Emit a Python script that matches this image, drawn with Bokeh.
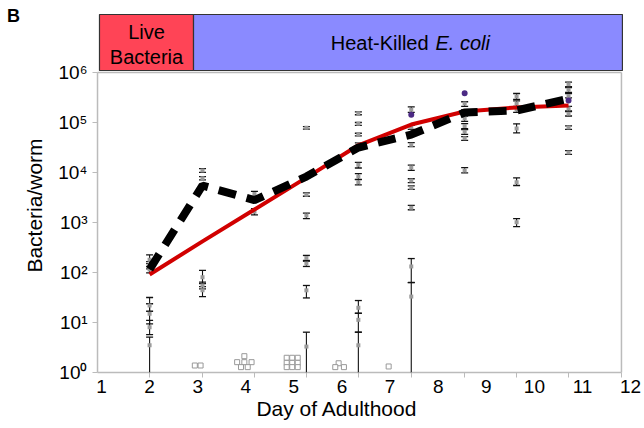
from bokeh.plotting import figure
from bokeh.models import Range1d, FixedTicker
from bokeh.embed import file_html
from bokeh.resources import INLINE
from bokeh.core.properties import value

FONT = "Liberation Sans"

# ---------------- data ----------------
days = [2.0, 3.1, 4.18, 5.26, 6.34, 7.44, 8.55, 9.63, 10.71]
model_fit = [91, 420, 1820, 7900, 35000, 91000, 166000, 200000, 220000]
mean_counts = [115, 5500, 2800, 8300, 31600, 57500, 158000, 174000, 300000]

worm_col = [0, 0, 0, 0, 0, 0, 0,
            1, 1, 1, 1, 1,
            2, 2,
            3, 3, 3, 3, 3, 3, 3,
            4, 4, 4, 4, 4, 4, 4, 4, 4, 4,
            5, 5, 5, 5, 5, 5, 5, 5, 5,
            6, 6, 6, 6, 6, 6, 6,
            7, 7, 7, 7, 7, 7,
            8, 8, 8, 8, 8, 8, 8]
worm_val = [180, 140, 115, 22, 15, 8, 3.5,
            11000, 7700, 80, 55, 44,
            3700, 1650,
            78300, 3600, 1380, 195, 151, 44, 3.3,
            153000, 94000, 57500, 36300, 14300, 8300, 6400, 19.7, 11.3, 3.5,
            180000, 80500, 36000, 12600, 6900, 4940, 1970, 132, 33,
            240000, 160000, 120000, 85000, 65000, 48500, 11000,
            330000, 240000, 180000, 76000, 6400, 1010,
            580000, 450000, 340000, 190000, 150000, 79000, 25000]
# a lower limit of 1 means the error bar reaches the axis
worm_lo = [150, 118, 98, 16.8, 9.4, 5.7, 1,
           10100, 7150, 60, 47, 33,
           3150, 1420,
           73500, 3350, 1190, 174, 132, 31, 1,
           143000, 88000, 54000, 34000, 12300, 7300, 5650, 15.3, 6.4, 1,
           160000, 73000, 33000, 11000, 6300, 4600, 1800, 63, 1,
           210000, 145000, 105000, 75000, 58000, 44000, 9800,
           290000, 210000, 160000, 62000, 5500, 830,
           520000, 400000, 310000, 170000, 135000, 73000, 23000]
worm_hi = [225, 165, 132, 31.6, 23.7, 11, 5.1,
           11900, 8300, 110, 64, 52,
           4200, 1900,
           83000, 3900, 1540, 219, 168, 55, 6.4,
           163000, 100000, 61000, 39000, 16000, 9500, 7200, 27.5, 15.3, 6.4,
           205000, 88000, 39500, 14000, 7500, 5400, 2200, 190, 63,
           260000, 180000, 135000, 95000, 72000, 52000, 12500,
           380000, 270000, 200000, 94000, 7800, 1190,
           640000, 500000, 380000, 210000, 165000, 86000, 27500]

purple_col = [5, 6, 8]
purple_val = [143000, 386000, 275000]

zero_x = [2.94, 3.06,
          3.97, 3.82, 3.97, 4.12, 3.90, 4.04,
          4.85, 4.965, 5.08, 4.85, 4.965, 5.08, 4.85, 4.965, 5.08,
          5.93, 5.86, 6.04,
          6.97]
zero_y = [1.38, 1.38,
          2.12, 1.61, 1.61, 1.61, 1.28, 1.28,
          1.97, 1.97, 1.97, 1.56, 1.56, 1.56, 1.28, 1.28, 1.28,
          1.53, 1.28, 1.28,
          1.32]

x_ticks = [1, 2, 3, 4, 5, 6, 7, 8, 9, 10, 11, 12]
y_ticks = [1, 10, 100, 1000, 10000, 100000, 1000000]
y_tick_labels = ["10\u2070", "10\u00b9", "10\u00b2", "10\u00b3", "10\u2074", "10\u2075", "10\u2076"]
banner_labels = ["Live", "Bacteria", "Heat-Killed", "E. coli"]
panel_letter = "B"

# geometry of the data area (in axis units)
X0, X1 = 0.917, 11.81
Y0, Y1 = 1, 1000000
GREY = "#BBBBBB"

# ---------------- figure ----------------
p = figure(width=644, height=428, x_range=Range1d(-1.0998, 12.289),
           y_range=Range1d(10 ** -1.12, 10 ** 7.44), y_axis_type="log",
           output_backend="svg", toolbar_location=None,
           min_border_left=0, min_border_right=0,
           min_border_top=0, min_border_bottom=0)
p.outline_line_color = None
p.grid.visible = False
p.background_fill_color = "white"
p.border_fill_color = "white"

# x axis (placed at the bottom edge of the data area)
xa = p.xaxis[0]
xa.fixed_location = Y0
xa.ticker = FixedTicker(ticks=x_ticks, minor_ticks=days + [X1])
xa.bounds = (-0.2, 12.0)
xa.major_tick_out = 0
xa.major_tick_in = 0
xa.minor_tick_out = 5
xa.minor_tick_in = 0
xa.minor_tick_line_color = GREY
xa.axis_line_color = None
xa.major_label_text_font = FONT
xa.major_label_text_font_size = "19px"
xa.major_label_text_color = "black"
xa.major_label_standoff = 2
xa.axis_label = "Day of Adulthood"
xa.axis_label_text_font = FONT
xa.axis_label_text_font_size = "21px"
xa.axis_label_text_font_style = "normal"
xa.axis_label_text_color = "black"
xa.axis_label_standoff = 1

# y axis (placed at the left edge of the data area)
ya = p.yaxis[0]
ya.fixed_location = X0
ya.ticker = FixedTicker(ticks=y_ticks)
ya.major_label_overrides = dict(zip(y_ticks, y_tick_labels))
ya.bounds = (1, 10 ** 6.68)
ya.minor_tick_line_color = None
ya.major_tick_out = 5
ya.major_tick_in = 0
ya.major_tick_line_color = GREY
ya.axis_line_color = None
ya.major_label_text_font = FONT
ya.major_label_text_font_size = "19px"
ya.major_label_text_color = "black"
ya.major_label_standoff = 5
ya.axis_label = "Bacteria/worm"
ya.axis_label_text_font = FONT
ya.axis_label_text_font_size = "21px"
ya.axis_label_text_font_style = "normal"
ya.axis_label_text_color = "black"
ya.axis_label_standoff = 9

# frame of the data area: left, bottom, right, top
p.segment(x0=[X0, X0, X1, X0], y0=[Y0, Y0, Y0, Y1],
          x1=[X0, X1, X1, X1], y1=[Y1, Y0, Y1, Y1],
          line_color=GREY, line_width=1.5)

# banner
p.quad(left=[0.958], right=[2.913], bottom=[10 ** 6.04], top=[10 ** 7.16],
       fill_color="#FF4456", line_color="#333333", line_width=1.2)
p.quad(left=[2.913], right=[11.83], bottom=[10 ** 6.04], top=[10 ** 7.16],
       fill_color="#8A8AFF", line_color="#333333", line_width=1.2)
p.text(x=[1.935, 1.935], y=[10 ** 6.82, 10 ** 6.32], text=banner_labels[:2],
       text_align="center", text_baseline="middle", text_font=value(FONT),
       text_font_size="20px", text_color="black")
p.text(x=[7.80], y=[10 ** 6.6], text=[banner_labels[2]], text_align="right",
       text_baseline="middle", text_font=value(FONT), text_font_size="20px",
       text_color="black")
p.text(x=[7.944], y=[10 ** 6.6], text=[banner_labels[3]], text_align="left",
       text_baseline="middle", text_font=value(FONT), text_font_size="20px",
       text_font_style="italic", text_color="black")

# panel letter
p.text(x=[-0.83], y=[10 ** 7.14], text=[panel_letter], text_align="center",
       text_baseline="middle", text_font=value(FONT), text_font_size="18px",
       text_font_style="bold", text_color="black")

# individual worms: error bars
wx = [days[c] for c in worm_col]
p.segment(x0=wx, y0=worm_lo, x1=wx, y1=worm_hi, line_color="#111111", line_width=1.1)
cap_x = [x for x, lo in zip(wx, worm_lo) if lo > Y0] + wx
cap_y = [lo for lo in worm_lo if lo > Y0] + worm_hi
p.scatter(x=cap_x, y=cap_y, marker="dash", size=7, line_color="#111111", line_width=1.3)
p.scatter(x=wx, y=worm_val, marker="square", size=4, fill_color="#9A9A9A",
          line_color=None)

# worms with zero bacteria
p.scatter(x=zero_x, y=zero_y, marker="square", size=5, fill_color="white",
          line_color="#999999", line_width=1)

# model fit and mean
p.line(days, model_fit, line_color="#D10000", line_width=4)
p.line(days, mean_counts, line_color="black", line_width=8, line_dash="18 11")

# purple points
p.scatter(x=[days[c] for c in purple_col], y=purple_val, marker="circle", size=6,
          fill_color="#4B2A84", line_color=None)

open("out.html", "w").write(file_html(p, INLINE))
